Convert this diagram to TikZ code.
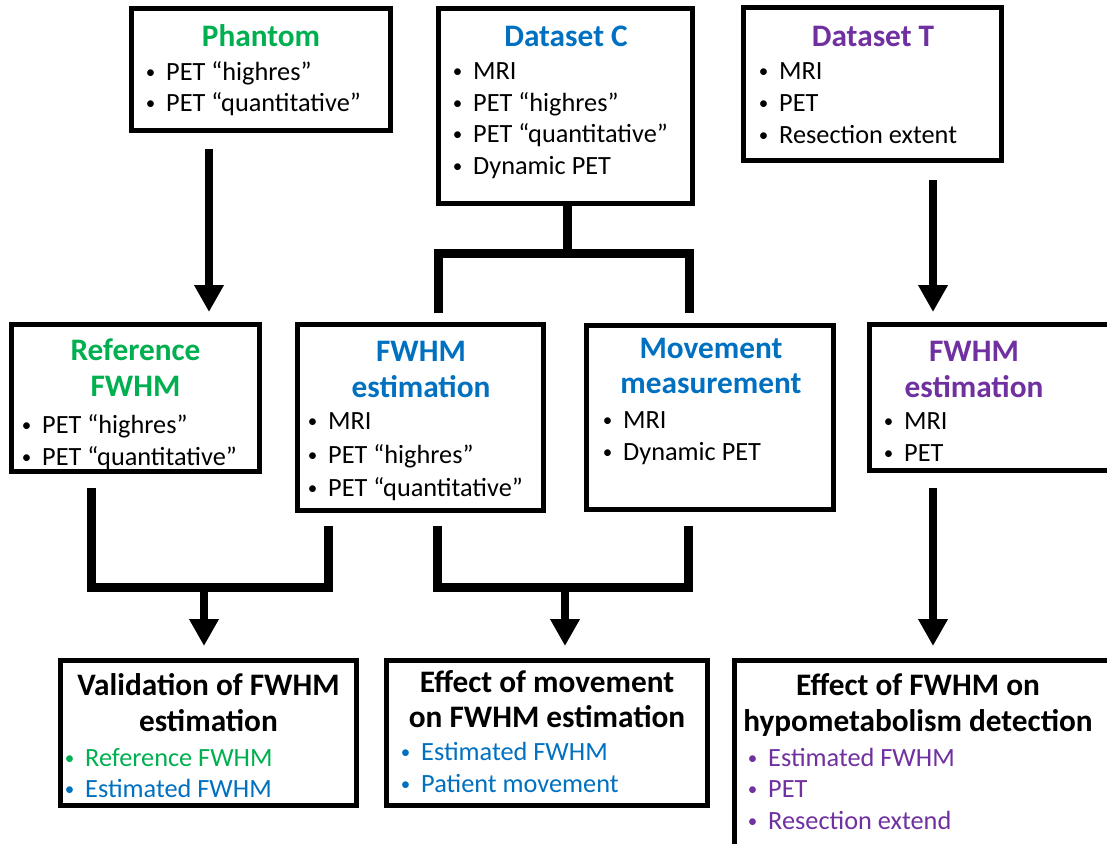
\documentclass[tikz,border=0pt]{standalone}
\usepackage{fontspec}
\setmainfont{Carlito}
\usetikzlibrary{arrows.meta,calc}
\definecolor{cgreen}{HTML}{00B050}
\definecolor{cblue}{HTML}{0070C0}
\definecolor{cpurple}{HTML}{7030A0}
\newcommand\bul{\llap{\makebox[0pt][c]{\raisebox{1.6pt}{\fontsize{19}{19}\selectfont •}}\hspace{15.5pt}}}
\begin{document}
\begin{tikzpicture}[x=1pt,y=-1pt,
  box/.style={draw, line width=5pt, inner sep=0pt, outer sep=0pt, anchor=north west},
  ttl/.style={font=\fontsize{31.3}{36}\selectfont\bfseries, anchor=base, inner sep=0pt},
  itm/.style={font=\fontsize{26.3}{31}\selectfont, anchor=base west, inner sep=0pt},
  arr/.style={line width=8.5pt, -{Triangle[width=28pt,length=27pt]}},
  brk/.style={line width=9pt, miter limit=10}]
\useasboundingbox (0,0) rectangle (1107,843);
\clip (0,0) rectangle (1107,843);
\fill[white] (0,0) rectangle (1107,843);

% boxes
\node[box, minimum width=259pt, minimum height=122pt] (ph) at (131.5,8.5) {};
\node[box, minimum width=254pt, minimum height=195pt] (dc) at (438.5,8.5) {};
\node[box, minimum width=258pt, minimum height=153pt] (dt) at (743.5,7.5) {};
\node[box, minimum width=248pt, minimum height=147pt] (rf) at (11.5,324.5) {};
\node[box, minimum width=246pt, minimum height=186pt] (fc) at (297.5,324.5) {};
\node[box, minimum width=247pt, minimum height=184pt] (mv) at (586.5,325.5) {};
\node[box, minimum width=250pt, minimum height=146pt] (ft) at (869.5,324.5) {};
\node[box, minimum width=296pt, minimum height=145pt] (va) at (60.5,660.5) {};
\node[box, minimum width=321pt, minimum height=145pt] (em) at (386.5,660.5) {};
\node[box, minimum width=390pt, minimum height=195pt] (ef) at (734.5,660.5) {};

% Phantom
\node[ttl, cgreen] (phT) at (261,46) {Phantom};
\node[itm] (ph1) at (166,80) {\bul PET “highres”};
\node[itm] (ph2) at (166,111) {\bul PET “quantitative”};
% Dataset C
\node[ttl, cblue] (dcT) at (566,46) {Dataset C};
\node[itm] (dc1) at (473,79) {\bul MRI};
\node[itm] (dc2) at (473,111) {\bul PET “highres”};
\node[itm] (dc3) at (473,142) {\bul PET “quantitative”};
\node[itm] (dc4) at (473,174) {\bul Dynamic PET};
% Dataset T
\node[ttl, cpurple] (dtT) at (873,47) {Dataset T};
\node[itm] (dt1) at (779,79) {\bul MRI};
\node[itm] (dt2) at (779,111) {\bul PET};
\node[itm] (dt3) at (779,143) {\bul Resection extent};
% Reference FWHM
\node[ttl, cgreen] (rfT1) at (135.5,360) {Reference};
\node[ttl, cgreen] (rfT2) at (135.5,396) {FWHM};
\node[itm] (rf1) at (42,433) {\bul PET “highres”};
\node[itm] (rf2) at (42,465) {\bul PET “quantitative”};
% FWHM estimation (C)
\node[ttl, cblue] (fcT1) at (421,361) {FWHM};
\node[ttl, cblue] (fcT2) at (421,397) {estimation};
\node[itm] (fc1) at (328,429) {\bul MRI};
\node[itm] (fc2) at (328,463) {\bul PET “highres”};
\node[itm] (fc3) at (328,496) {\bul PET “quantitative”};
% Movement measurement
\node[ttl, cblue] (mvT1) at (711,358) {Movement};
\node[ttl, cblue] (mvT2) at (711,393) {measurement};
\node[itm] (mv1) at (623,428) {\bul MRI};
\node[itm] (mv2) at (623,460) {\bul Dynamic PET};
% FWHM estimation (T)
\node[ttl, cpurple] (ftT1) at (974,361) {FWHM};
\node[ttl, cpurple] (ftT2) at (974,397) {estimation};
\node[itm] (ft1) at (904,429) {\bul MRI};
\node[itm] (ft2) at (904,461) {\bul PET};
% Validation
\node[ttl] (vaT1) at (208.5,695) {Validation of FWHM};
\node[ttl] (vaT2) at (208.5,731) {estimation};
\node[itm, cgreen] (va1) at (85,766) {\bul Reference FWHM};
\node[itm, cblue] (va2) at (85,797) {\bul Estimated FWHM};
% Effect of movement
\node[ttl] (emT1) at (547,692) {Effect of movement};
\node[ttl] (emT2) at (547,727) {on FWHM estimation};
\node[itm, cblue] (em1) at (421,760) {\bul Estimated FWHM};
\node[itm, cblue] (em2) at (421,792) {\bul Patient movement};
% Effect of FWHM
\node[ttl] (efT1) at (918,695) {Effect of FWHM on};
\node[ttl] (efT2) at (918,731) {hypometabolism detection};
\node[itm, cpurple] (ef1) at (768,766) {\bul Estimated FWHM};
\node[itm, cpurple] (ef2) at (768,797) {\bul PET};
\node[itm, cpurple] (ef3) at (768,829) {\bul Resection extend};

% x positions of connectors
\coordinate (xA) at (209,0);
\coordinate (xT) at (933,0);
\coordinate (xC) at (567,0);
\coordinate (xL1) at (438,0);
\coordinate (xR1) at (689,0);
\coordinate (xL2) at (91,0);
\coordinate (xR2) at (328,0);
\coordinate (xL3) at (437,0);
\coordinate (xR3) at (688,0);
\coordinate (xV) at (204,0);
\coordinate (xM) at (565,0);
\coordinate (yTop) at (0,253);
\coordinate (yBot) at (0,587);

% arrows
\draw[arr] ($(ph.south -| xA)+(0,18.5)$) -- ($(rf.north -| xA)+(0,-12.5)$);
\draw[arr] ($(dt.south -| xT)+(0,19.5)$) -- ($(ft.north -| xT)+(0,-12.5)$);
\draw[arr] ($(ft.south -| xT)+(0,17.5)$) -- ($(ef.north -| xT)+(0,-14.5)$);

% top bracket
\draw[brk] (dc.south -| xC) -- (xC |- yTop);
\draw[brk] ($(fc.north -| xL1)+(0,-11.5)$) -- (xL1 |- yTop) -- (xR1 |- yTop) -- ($(mv.north -| xR1)+(0,-12.5)$);

% bottom left bracket
\draw[brk] ($(rf.south -| xL2)+(0,16.5)$) -- (xL2 |- yBot) -- (xR2 |- yBot) -- ($(fc.south -| xR2)+(0,15.5)$);
\draw[arr] (xV |- yBot) -- ($(va.north -| xV)+(0,-14.5)$);

% bottom centre bracket
\draw[brk] ($(fc.south -| xL3)+(0,15.5)$) -- (xL3 |- yBot) -- (xR3 |- yBot) -- ($(mv.south -| xR3)+(0,16.5)$);
\draw[arr] (xM |- yBot) -- ($(em.north -| xM)+(0,-14.5)$);
\end{tikzpicture}
\end{document}
